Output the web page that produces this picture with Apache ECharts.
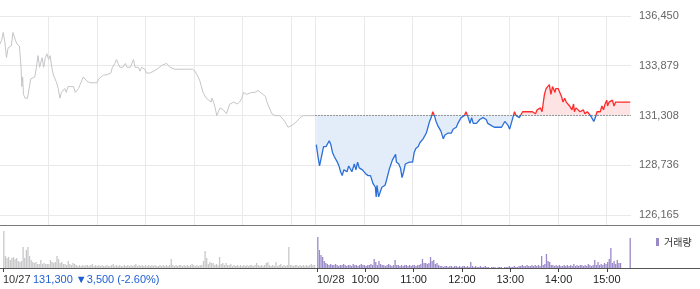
<!DOCTYPE html>
<html><head><meta charset="utf-8">
<script src="https://cdn.jsdelivr.net/npm/echarts@6/dist/echarts.min.js"></script>
<style>html,body{margin:0;padding:0;background:#fff}#c{width:700px;height:289px}</style>
</head><body><div id="c"></div>
<script>
// ---- data ----
// 10/27 (previous session): minutes after 09:00, price
const prevTimes = [0,2,4,6,8,10,12,14,16,19,21,24,26,27,28,29,31,34,36,38,40,43,45,47,49,52,54,56,58,60,62,64,66,68,70,72,74,76,78,80,82,84,87,89,91,93,95,97,99,101,103,105,107,111,115,120,122,124,128,131,137,139,142,144,146,148,150,152,155,157,159,161,163,165,167,169,171,173,175,177,179,181,185,187,190,192,194,196,200,202,206,208,210,212,216,220,222,225,227,229,233,235,238,241,243,245,247,249,251,253,255,257,261,262,264,266,268,270,272,274,276,278,280,282,284,286,289,293,296,299,301,303,305,307,311,315,319,321,325,328,330,332,334,336,340,342,346,348,352,354,356,358,361,363,367,369,371,375,377,379,383,389];
const prevPrices = [135000,135200,135600,135100,134300,134800,134700,134900,135600,135200,135000,134900,133800,132800,133300,132400,132200,132200,132700,133200,133300,133300,133800,134400,133800,134300,133800,134300,134500,134200,134400,133800,133400,133300,133000,132700,132200,132500,132400,132700,132500,132800,132800,132700,132800,132500,132400,132700,132900,133100,133300,133200,133100,133000,133000,133000,133200,133300,133400,133400,133500,133800,134000,134200,134000,133800,133900,133800,134000,133800,133900,133800,133900,134200,133800,133800,133800,133600,133800,133900,133700,133500,133500,133500,133600,133500,133700,133800,133900,134000,134000,133900,133800,133700,133700,133700,133800,133700,133800,133700,133700,133600,133700,133600,133700,133300,133100,132800,132500,132500,132200,132100,132000,132200,132000,131700,131300,131500,131700,131800,131600,131500,131400,131500,131900,132000,132000,131900,132000,132200,132500,132500,132400,132500,132500,132500,132600,132500,132400,132300,132000,131800,131800,131400,131300,131300,131300,131200,131000,130900,130700,130800,130800,130900,131000,131100,131200,131300,131200,131300,131300,131300];
// 10/28 (current session): minutes after 09:00, price
const todayTimes = [1,3,5,7,8,10,13,14,15,17,19,21,23,25,27,29,31,33,35,37,39,41,43,45,48,50,52,54,56,58,60,62,65,68,70,71,74,75,76,78,80,82,84,86,88,90,91,93,95,97,99,100,102,103,105,107,109,111,113,116,118,120,122,124,126,127,129,131,133,135,137,139,141,143,145,147,149,151,153,155,158,160,162,164,166,168,170,172,174,176,178,180,182,184,186,188,191,193,195,197,199,201,203,205,207,209,211,213,215,217,219,221,226,230,232,234,236,238,240,242,244,246,248,250,252,254,256,257,259,261,263,265,268,270,272,274,276,278,280,281,283,285,287,289,291,293,296,297,300,302,304,306,308,310,312,314,315,317,319,320,322,324,327,329,331,333,336,338,340,342,344,346,348,350,352,354,356,358,360,361,363,365,367,369,371,373,375,377,381,385,389];
const todayPrices = [129800,129200,128700,128800,129300,129700,129700,129600,129800,130000,129800,129400,129200,129100,128900,128700,128400,128200,128500,128600,128400,128700,128600,128400,128800,128500,128900,128600,128600,128500,128500,128300,128200,128200,128100,127800,127600,127100,127700,127100,127000,127600,127700,127700,128000,128100,128500,128600,129000,129100,129300,128900,128900,128800,128600,128100,128400,128800,128900,128900,129000,128900,129400,129600,129600,129700,129900,129800,130100,130000,130400,130700,131000,131200,131500,131300,131000,130800,130700,130500,130100,130300,130200,130400,130500,130400,130600,130500,130700,130900,130900,131200,131200,131300,131500,131300,130900,131200,130900,131000,130900,131000,131100,131100,131200,131200,131100,130900,130800,130800,130800,130700,130700,130700,130600,131000,130900,130800,130600,130900,131200,131500,131300,131200,131200,131200,131500,131600,131500,131600,131500,131600,131500,131500,131400,131600,131500,131700,131500,131800,132400,132700,132800,132900,132400,132800,132500,132700,132700,132500,132300,132000,132200,132000,132000,131800,131700,131600,131900,131500,131700,131600,131500,131500,131600,131400,131500,131400,131300,131200,131000,131200,131500,131400,131500,131800,131600,131900,132100,131800,132000,131900,132100,131800,132000,131900,132000,132000,132000,132000,132000];
const baseline = 131308;
// volume, 2-minute buckets (thousand shares, estimated)
const prevVolumes = [37,12,10,11,8,10,11,9,10,7, 6,7,21,10,18,21,12,8,6,5, 6,4,4,8,4,5,4,4,4,8, 6,5,6,12,9,5,6,4,4,3, 7,4,3,5,4,3,2,3,2,3, 2,3,3,2,3,4,2,3,2,3, 2,3,2,2,3,2,2,3,4,2, 3,2,3,2,2,3,2,3,2,3, 2,3,4,2,3,2,3,2,3,2, 3,2,3,2,3,2,2,3,2,3, 2,3,2,3,9,3,2,3,2,3, 3,2,3,2,3,2,3,4,3,2, 3,2,3,3,7,17,10,4,6,5, 5,3,4,3,11,4,5,3,5,3, 3,4,2,3,2,3,2,3,2,3, 2,3,2,3,3,2,3,5,3,2, 3,2,3,5,6,3,2,3,2,6, 2,3,4,2,3,2,3,21,3,3, 2,3,3,2,3,2,3,2,3,2, 3,4,3,3,0];
const todayVolumes = [31,18,13,11,7,5,4,3,4,3, 3,4,3,2,3,3,4,3,2,3, 3,2,4,3,3,2,3,4,3,3, 2,3,3,4,3,9,6,3,7,4, 3,3,2,3,4,3,2,3,8,3, 3,2,3,2,3,3,2,3,2,3, 3,2,3,3,4,9,5,5,4,5, 11,7,8,4,5,3,2,2,1,2, 2,1,2,2,1,2,2,1,2,1, 2,2,1,2,1,6,2,1,2,1, 1,2,1,1,2,1,1,0,1,1, 1,0,1,1,1,0,1,1,1,2, 1,1,2,1,1,2,2,3,2,2, 3,2,2,3,2,3,2,3,2,12, 3,4,14,7,6,3,3,2,3,2, 3,2,2,3,2,3,2,3,2,4, 2,3,2,3,3,2,3,2,4,3, 2,3,8,3,6,3,4,3,5,4, 6,9,20,5,7,4,8,5,5,0, 0,0,0,0,30];
// ticks / labels
const yTickValues = [126165,128736,131308,133879,136450];
const yTickLabels = ['126,165','128,736','131,308','133,879','136,450'];
const hourGridValues = [60,120,180,240,300,360,390,450,510,570,630,690,750];
const dateTickValues = [0,390];
const dateTickLabels = ['10/27','10/28'];
const timeTickValues = [450,510,570,630,690,750];
const timeTickLabels = ['10:00','11:00','12:00','13:00','14:00','15:00'];
const summaryText = '131,300 \u25BC3,500 (-2.60%)';
const volumeLegend = '거래량';

// ---- chart ----
const DAY = 390, TOTAL = 780;
const prevLine = prevTimes.map((t,i)=>[t, prevPrices[i]]);
const todayLine = todayTimes.map((t,i)=>[t+DAY, todayPrices[i]]);
const baseLine = [[DAY, baseline],[TOTAL, baseline]];
const prevVol = prevVolumes.map((v,i)=>[2*i+1, v]);
const todayVol = todayVolumes.map((v,i)=>[DAY+2*i+1, v]);
const FONT = '"Liberation Sans", Arial, sans-serif';
const UP = '#ff2a2a', DOWN = '#2b6fd8', UP_FILL = '#fde3e3', DOWN_FILL = '#e3ecf9';
const GRID_TOP = 16, GRID_H = 209;

const chart = echarts.init(document.getElementById('c'));
chart.setOption({
  animation:false,
  textStyle:{fontFamily:FONT},
  grid:[{left:0,top:GRID_TOP,width:631,height:GRID_H},{left:0,top:226,width:631,height:42}],
  xAxis:[
    {gridIndex:0,type:'value',min:0,max:TOTAL,axisLine:{show:false},
     axisTick:{show:false,customValues:hourGridValues},axisLabel:{show:false},
     splitLine:{show:true,lineStyle:{color:'#e9e9e9',width:1}}},
    {gridIndex:1,type:'value',min:0,max:TOTAL,position:'bottom',axisLine:{show:false},
     axisTick:{show:true,length:4,customValues:timeTickValues,lineStyle:{color:'#444'}},
     axisLabel:{customValues:timeTickValues,formatter:v=>timeTickLabels[timeTickValues.indexOf(v)],
       margin:6,fontSize:11,color:'#222',align:'center',fontFamily:FONT},
     splitLine:{show:false}},
    {gridIndex:1,type:'value',min:0,max:TOTAL,position:'bottom',offset:0,axisLine:{show:false},
     axisTick:{show:true,length:4,customValues:dateTickValues,lineStyle:{color:'#444'}},
     axisLabel:{customValues:dateTickValues,formatter:v=>dateTickLabels[dateTickValues.indexOf(v)],
       margin:6,fontSize:11,color:'#333',align:'left',showMinLabel:true,fontFamily:FONT},
     splitLine:{show:false}}
  ],
  yAxis:[
    {gridIndex:0,type:'value',min:125648,max:136450,position:'right',axisLine:{show:false},
     axisTick:{show:false,customValues:yTickValues},
     axisLabel:{customValues:yTickValues,formatter:v=>yTickLabels[yTickValues.indexOf(v)],
       margin:8,fontSize:11,color:'#666',showMinLabel:true,showMaxLabel:true,fontFamily:FONT},
     splitLine:{show:true,lineStyle:{color:'#e9e9e9',width:1}}},
    {gridIndex:1,type:'value',min:0,max:42,show:false}
  ],
  legend:{data:[volumeLegend],left:651,top:232,icon:'rect',itemWidth:3,itemHeight:8,
    textStyle:{fontSize:10,color:'#333',fontFamily:'"Noto Sans CJK KR", sans-serif'}},
  series:[
    {type:'line',name:'10/27',xAxisIndex:0,yAxisIndex:0,data:prevLine,showSymbol:false,
     lineStyle:{color:'#c5c5c8',width:1},itemStyle:{color:'#c5c5c8'},silent:true},
    {type:'line',name:'10/28',xAxisIndex:0,yAxisIndex:0,data:todayLine,showSymbol:false,
     lineStyle:{width:1.3,color:DOWN},itemStyle:{color:DOWN},areaStyle:{origin:baseline,color:DOWN_FILL,opacity:1},silent:true,z:3},
    {type:'line',name:'base',xAxisIndex:0,yAxisIndex:0,data:baseLine,showSymbol:false,silent:true,
     lineStyle:{color:'#444',type:[1,2],width:1},itemStyle:{color:'#444'},z:4},
    {type:'bar',name:'거래량(10/27)',xAxisIndex:1,yAxisIndex:1,data:prevVol,barWidth:1.3,barGap:'-100%',
     itemStyle:{color:'#c8c8ca'},silent:true},
    {type:'bar',name:volumeLegend,xAxisIndex:1,yAxisIndex:1,data:todayVol,barWidth:1.3,barGap:'-100%',
     itemStyle:{color:'#9a88c9'},silent:true}
  ],
  graphic:[
    {type:'line',silent:true,shape:{x1:0,y1:225.5,x2:700,y2:225.5},style:{stroke:'#7a7a7a',lineWidth:1}},
    {type:'line',silent:true,shape:{x1:0,y1:268.5,x2:700,y2:268.5},style:{stroke:'#555',lineWidth:1}},
    {type:'text',silent:true,left:33,top:274,style:{text:summaryText,fill:'#1f5fd2',font:'11px '+FONT}}
  ]
});
// split colours at the baseline, positioned with the library's own y scale
const by = chart.convertToPixel({yAxisIndex:0}, baseline);
const t = Math.min(1, Math.max(0, (by - GRID_TOP) / GRID_H));
const split = (a, b) => new echarts.graphic.LinearGradient(0, GRID_TOP, 0, GRID_TOP + GRID_H,
  [{offset:0,color:a},{offset:t,color:a},{offset:t,color:b},{offset:1,color:b}], true);
chart.setOption({series:[{},{lineStyle:{color:split(UP,DOWN)},areaStyle:{color:split(UP_FILL,DOWN_FILL)}}]});
</script></body></html>
